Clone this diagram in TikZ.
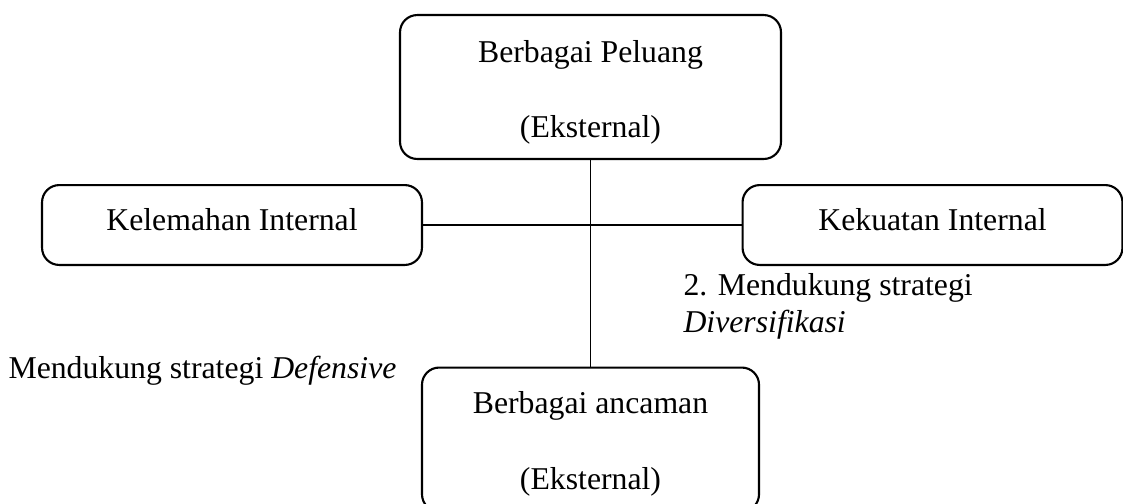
\documentclass[tikz,border=0pt]{standalone}
\usepackage{fontspec}
\setmainfont{Liberation Serif}
\usepackage{tikz}
\usetikzlibrary{positioning}

\tikzset{
  sidebox/.style={draw, line width=0.8pt, rounded corners=6.5pt, inner sep=0pt,
    minimum width=143.6pt, minimum height=30.2pt,
    font=\fontsize{12}{13.8}\selectfont, text height=8pt, text depth=4pt},
  extbox/.style={draw, line width=0.8pt, rounded corners=6.5pt, inner sep=0pt,
    minimum height=54.4pt, align=center, font=\fontsize{12}{28.4}\selectfont},
  link/.style={line width=0.4pt},
  note/.style={inner sep=0pt, anchor=base west, align=left,
    font=\fontsize{12}{13.8}\selectfont}
}

\begin{document}
\begin{tikzpicture}[x=0.378pt, y=-0.378pt]
  \useasboundingbox (0,0) rectangle (1123,503);

  % Boxes
  \node[extbox, minimum width=144pt] (peluang) at (590.5, 87)
    {\rule{0pt}{12.6pt}Berbagai Peluang\\(Eksternal)};
  \node[sidebox] (kelemahan) at (232, 225) {Kelemahan Internal};
  \node[sidebox] (kekuatan) at (932.5, 225) {Kekuatan Internal};
  \node[extbox, minimum width=127.4pt] (ancaman) at (590.5, 439.5)
    {\rule{0pt}{11.6pt}Berbagai ancaman\\(Eksternal)};

  % Axes
  \draw[link] (peluang) -- (ancaman);
  \draw[link] (kelemahan) -- (kekuatan);

  % Strategy notes
  \node[note] (diversifikasi) at (683, 332)
    {2. Mendukung strategi\\\textit{Diversifikasi}};
  \node[note] (defensive) at (8, 378) {Mendukung strategi \textit{Defensive}};
\end{tikzpicture}
\end{document}
